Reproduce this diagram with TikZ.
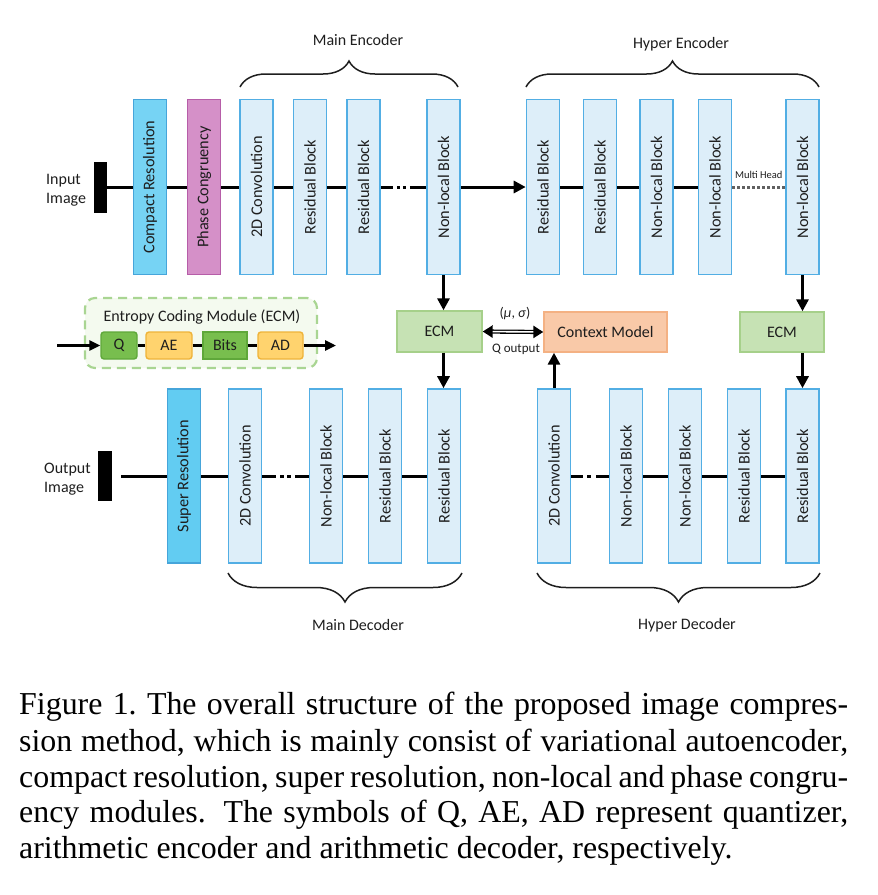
\documentclass[tikz,border=0pt]{standalone}
\usepackage{fontspec}
\setmainfont{Carlito}
\newfontfamily\capfont{Liberation Serif}
\usetikzlibrary{arrows.meta,decorations.pathreplacing}

\definecolor{blockfill}{HTML}{DDEEF9}
\definecolor{blockline}{HTML}{52AEE4}
\definecolor{compfill}{HTML}{76D3F4}
\definecolor{compline}{HTML}{46A5DA}
\definecolor{srfill}{HTML}{62CCF2}
\definecolor{phasefill}{HTML}{D590C8}
\definecolor{phaseline}{HTML}{B65DA8}
\definecolor{ecmfill}{HTML}{C6E2B4}
\definecolor{ecmline}{HTML}{A6D08A}
\definecolor{quantfill}{HTML}{78BE4E}
\definecolor{quantline}{HTML}{5FA83A}
\definecolor{codefill}{HTML}{FFD36E}
\definecolor{codeline}{HTML}{EFB43A}
\definecolor{ctxfill}{HTML}{F9C9A8}
\definecolor{ctxline}{HTML}{F4B183}
\definecolor{modfill}{HTML}{F4FAEF}
\definecolor{modline}{HTML}{A9D592}
\definecolor{txt}{HTML}{1E1E1E}

\tikzset{
  block/.style={draw=blockline, fill=blockfill, line width=1.6pt, minimum width=33pt,
    minimum height=175pt, inner sep=0pt, font=\fontsize{16.3}{19}\selectfont, text=txt},
  lbl/.style={font=\fontsize{16}{19}\selectfont, text=txt, inner sep=0pt},
  unit/.style={minimum height=27pt, inner sep=0pt, line width=1.4pt, font=\fontsize{16}{19}\selectfont, text=txt},
  link/.style={line width=3pt},
  flow/.style={line width=3pt, -{Triangle[length=12pt,width=12pt]}},
  smallflow/.style={line width=2.6pt, -{Triangle[length=11pt,width=10pt]}},
  brc/.style={decorate, decoration={brace, amplitude=#1}, line width=1.5pt, txt},
  capline/.style={anchor=base west, inner sep=0pt, font=\capfont\fontsize{31.9}{36}\selectfont},
}

\begin{document}
\begin{tikzpicture}[x=1pt, y=-1pt]
    \useasboundingbox (0,0) rectangle (878,895);

    % image bars
    \node[fill=black, minimum width=13pt, minimum height=51pt, inner sep=0pt] (inbar) at (100.5,187) {};
    \node[fill=black, minimum width=14pt, minimum height=50pt, inner sep=0pt] (outbar) at (105,476) {};
    \node[lbl, align=left, anchor=west] (inlbl) at (46,190) {Input\\Image};
    \node[lbl, align=left, anchor=west] (outlbl) at (44,479) {Output\\Image};

    % encoder row
    \node[block, draw=compline, fill=compfill] (comp) at (150,187) {\rotatebox{90}{Compact Resolution}};
    \node[block, draw=phaseline, fill=phasefill] (phase) at (204,187) {\rotatebox{90}{Phase Congruency}};
    \foreach \name/\x/\txt in {conv/256.5/2D Convolution, res1/310/Residual Block,
        res2/363.5/Residual Block, nl/443.5/Non-local Block, hres1/543/Residual Block,
        hres2/600/Residual Block, hnl1/656.5/Non-local Block, hnl2/715/Non-local Block,
        hnl3/802.5/Non-local Block}{%
        \node[block] (\name) at (\x,187) {\rotatebox{90}{\txt}};
    }

    % decoder row
    \node[block, minimum height=174pt, draw=compline, fill=srfill] (sr) at (184,476) {\rotatebox{90}{Super Resolution}};
    \foreach \name/\x/\txt in {dconv/245/2D Convolution, dnl/326/Non-local Block,
        dres1/385/Residual Block, dres2/444/Residual Block, hdconv/554/2D Convolution,
        hdnl1/626/Non-local Block, hdnl2/685/Non-local Block, hdres1/744/Residual Block,
        hdres2/802.5/Residual Block}{%
        \node[block, minimum height=174pt] (\name) at (\x,476) {\rotatebox{90}{\txt}};
    }

    % middle row
    \node[unit, draw=ecmline, fill=ecmfill, minimum width=85pt, minimum height=41pt] (ecm) at (439.5,331.5) {ECM};
    \node[unit, draw=ecmline, fill=ecmfill, minimum width=84pt, minimum height=40pt] (hecm) at (782,332) {ECM};
    \node[unit, draw=ctxline, fill=ctxfill, minimum width=123pt, minimum height=40pt] (ctx) at (605.5,332) {Context Model};

    % entropy coding module
    \node[draw=modline, fill=modfill, line width=2.2pt, dash pattern=on 9pt off 6pt,
        rounded corners=10pt, minimum width=232pt, minimum height=70pt] (ecmmod) at (201,333) {};
    \node[lbl] (ecmtitle) at (202,317) {Entropy Coding Module (ECM)};
    \node[unit, draw=quantline, fill=quantfill, rounded corners=3pt, minimum width=36pt] (q) at (119,345.5) {Q};
    \node[unit, draw=codeline, fill=codefill, rounded corners=3pt, minimum width=46pt] (ae) at (169,345.5) {AE};
    \node[unit, draw=quantline, fill=quantfill, minimum width=44pt] (bits) at (225,345.5) {Bits};
    \node[unit, draw=codeline, fill=codefill, rounded corners=3pt, minimum width=45pt] (ad) at (280.5,345.5) {AD};
    \coordinate (ecmin) at (57,345.5);
    \coordinate (ecmout) at (336,345.5);
    \draw[smallflow] (ecmin) -- (q);
    \draw[link] (q) -- (ae) -- (bits) -- (ad);
    \draw[smallflow] (ad) -- (ecmout);

    % encoder links
    \draw[link] (inbar) -- (comp) -- (phase) -- (conv) -- (res1) -- (res2);
    \draw[link, dash pattern=on 12pt off 4pt on 3pt off 3pt on 3pt off 4pt on 30pt off 0pt] (res2) -- (nl);
    \draw[flow] (nl) -- (hres1);
    \draw[link] (hres1) -- (hres2) -- (hnl1) -- (hnl2);
    \draw[line width=3pt, dash pattern=on 3pt off 2pt, txt!70] (hnl2) -- (hnl3)
        node[midway, above=4pt, font=\fontsize{10.5}{12}\selectfont, text=txt] (mhead) {Multi Head};

    % decoder links
    \draw[link, shorten <=9pt] (outbar) -- (sr);
    \draw[link] (sr) -- (dconv);
    \draw[link, dash pattern=on 14pt off 4pt on 4pt off 3pt on 4pt off 4pt on 30pt off 0pt] (dconv) -- (dnl);
    \draw[link] (dnl) -- (dres1) -- (dres2);
    \draw[link, dash pattern=on 12pt off 4pt on 4pt off 5pt on 30pt off 0pt] (hdconv) -- (hdnl1);
    \draw[link] (hdnl1) -- (hdnl2) -- (hdres1) -- (hdres2);

    % vertical arrows
    \draw[flow] (nl.south) -- (nl.south |- ecm.north);
    \draw[flow] (nl.south |- ecm.south) -- (nl.south |- dres2.north);
    \draw[flow] (hnl3.south) -- (hnl3.south |- hecm.north);
    \draw[flow] (hnl3.south |- hecm.south) -- (hnl3.south |- hdres2.north);
    \draw[flow] (hdconv.north) -- (hdconv.north |- ctx.south);

    % ECM <-> context model
    \draw[line width=4.2pt, {Triangle[length=10pt,width=12pt]}-{Triangle[length=10pt,width=12pt]}] (ecm.east) -- (ctx.west);
    \draw[white, line width=1.6pt, shorten <=10pt, shorten >=10pt] (ecm.east) -- (ctx.west);
    \node[lbl, font=\fontsize{14}{16}\selectfont] (musig) at (515,314) {(\textit{μ}, \textit{σ})};
    \node[lbl, font=\fontsize{13}{15}\selectfont] (qout) at (516,349) {Q output};

    % braces
    \draw[brc=26pt] (240,87) -- (458,87);
    \draw[brc=26pt] (526,87) -- (819,87);
    \draw[brc=29pt] (462,573) -- (228,573);
    \draw[brc=29pt] (820,573) -- (537,573);
    \node[lbl] (mainenc) at (358,40) {Main Encoder};
    \node[lbl] (hypenc) at (681,44) {Hyper Encoder};
    \node[lbl] (maindec) at (358,625) {Main Decoder};
    \node[lbl] (hypdec) at (687,625) {Hyper Decoder};

    % caption
    \node[capline] (cap1) at (19,714) {\makebox[829pt][s]{Figure 1.\ The overall structure of the proposed image compres-}};
    \node[capline] (cap2) at (19,751) {\makebox[829pt][s]{sion method, which is mainly consist of variational autoencoder,}};
    \node[capline] (cap3) at (19,787) {\makebox[829pt][s]{compact resolution, super resolution, non-local and phase congru-}};
    \node[capline] (cap4) at (19,822) {\makebox[829pt][s]{ency modules.  The symbols of Q, AE, AD represent quantizer,}};
    \node[capline] (cap5) at (19,858) {arithmetic encoder and arithmetic decoder, respectively.};
\end{tikzpicture}
\end{document}
